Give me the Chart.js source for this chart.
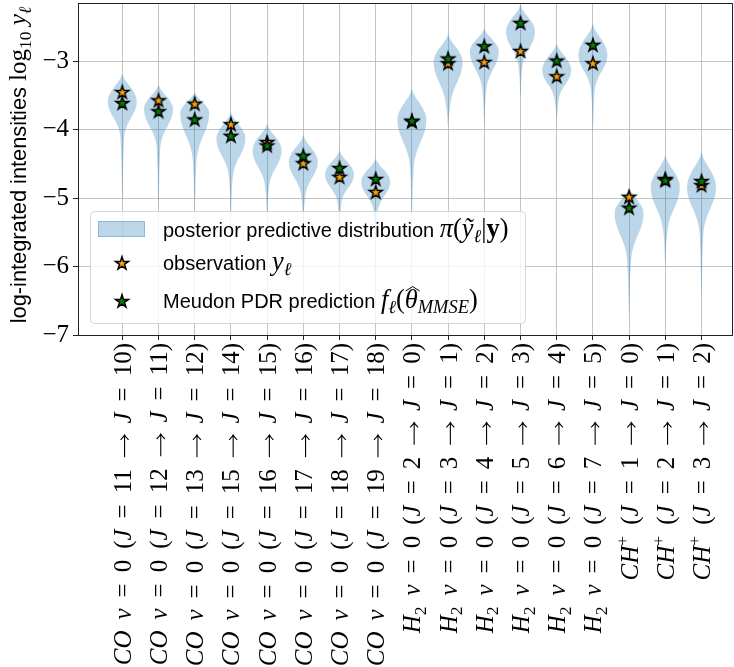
<!DOCTYPE html>
<html>
<head>
<meta charset="utf-8">
<script src="https://cdn.jsdelivr.net/npm/chart.js@4/dist/chart.umd.min.js"></script>
<style>
  html, body { margin: 0; padding: 0; background: #fff; }
  #wrap { width: 734px; height: 667px; }
</style>
</head>
<body>
<div id="wrap"><canvas id="chart" width="734" height="667"></canvas></div>
<script>
// Line labels (_x = subscript, ^x = superscript)
const categories = [
    'CO ν = 0 (J = 11 → J = 10)',
    'CO ν = 0 (J = 12 → J = 11)',
    'CO ν = 0 (J = 13 → J = 12)',
    'CO ν = 0 (J = 15 → J = 14)',
    'CO ν = 0 (J = 16 → J = 15)',
    'CO ν = 0 (J = 17 → J = 16)',
    'CO ν = 0 (J = 18 → J = 17)',
    'CO ν = 0 (J = 19 → J = 18)',
    'H_2 ν = 0 (J = 2 → J = 0)',
    'H_2 ν = 0 (J = 3 → J = 1)',
    'H_2 ν = 0 (J = 4 → J = 2)',
    'H_2 ν = 0 (J = 5 → J = 3)',
    'H_2 ν = 0 (J = 6 → J = 4)',
    'H_2 ν = 0 (J = 7 → J = 5)',
    'CH^+ (J = 1 → J = 0)',
    'CH^+ (J = 2 → J = 1)',
    'CH^+ (J = 3 → J = 2)'
];

const observation = [-3.45, -3.57, -3.62, -3.92, -4.18, -4.49, -4.69, -4.91, -3.88,
                     -3.03, -3.01, -2.85, -3.22, -3.03, -4.98, -4.72, -4.81];
const prediction  = [-3.61, -3.73, -3.85, -4.09, -4.23, -4.38, -4.56, -4.72, -3.87,
                     -2.96, -2.78, -2.44, -2.99, -2.76, -5.14, -4.74, -4.75];

// violin outline: tip, widest point, end of body, end of tail
const violinTop  = [-3.18, -3.34, -3.45, -3.74, -3.91, -4.08, -4.30, -4.42, -3.40,
                    -2.60, -2.52, -2.17, -2.74, -2.45, -4.84, -4.37, -4.32];
const violinPeak = [-3.59, -3.70, -3.76, -4.13, -4.30, -4.47, -4.66, -4.76, -3.86,
                    -3.01, -2.86, -2.57, -3.13, -2.91, -5.22, -4.84, -4.84];
const violinNeck = [-4.10, -4.25, -4.45, -4.69, -4.84, -4.98, -5.07, -5.20, -4.54,
                    -3.67, -3.42, -3.08, -3.57, -3.42, -5.91, -5.51, -5.51];
const violinTail = [-5.10, -5.20, -5.20, -5.30, -5.30, -5.40, -5.50, -5.60, -5.30,
                    -3.98, -3.95, -3.55, -3.90, -4.05, -6.78, -6.00, -6.50];
// relative half-widths along each part of a violin
const profileUpper = [0, 0.12, 0.33, 0.58, 0.80, 0.95, 1];
const profileLower = [1, 0.96, 0.84, 0.66, 0.46, 0.30, 0.19, 0.13];
const profileTail  = [0.13, 0.08, 0.05, 0.03, 0];
const violinWidth = 0.8;

const yTicks = [-7, -6, -5, -4, -3];

const violinColor = 'rgba(31,119,180,0.3)';
const gridColor = 'rgba(176,176,176,0.75)';
const SANS = '"Liberation Sans"';
const SERIF = '"Liberation Serif"';

function makeStar(fill) {
    const c = document.createElement('canvas');
    c.width = 20; c.height = 20;
    const g = c.getContext('2d');
    g.beginPath();
    for (let k = 0; k < 10; k++) {
        const r = k % 2 ? 6.8 * 0.382 : 6.8;
        const ang = -Math.PI / 2 + k * Math.PI / 5;
        const px = 10 + r * Math.cos(ang), py = 10.6 + r * Math.sin(ang);
        if (k) g.lineTo(px, py); else g.moveTo(px, py);
    }
    g.closePath();
    g.fillStyle = fill;
    g.fill();
    g.lineWidth = 1.5;
    g.strokeStyle = '#000';
    g.stroke();
    return c;
}
const starOrange = makeStar('#ffa500');
const starGreen = makeStar('#008000');

function violinOutline(i) {
    const left = [];
    const addPart = (from, to, prof, skipFirst) => {
        prof.forEach((w, k) => {
            if (skipFirst && k === 0) return;
            left.push({ y: from + (to - from) * k / (prof.length - 1), w: w * violinWidth / 2 });
        });
    };
    addPart(violinTop[i], violinPeak[i], profileUpper, false);
    addPart(violinPeak[i], violinNeck[i], profileLower, true);
    addPart(violinNeck[i], violinTail[i], profileTail, true);
    const pts = left.map(p => ({ x: i - p.w, y: p.y }));
    for (let k = left.length - 1; k >= 0; k--) pts.push({ x: i + left[k].w, y: left[k].y });
    return pts;
}

const datasets = [];
datasets.push({
    label: 'Meudon PDR prediction',
    data: prediction.map((v, i) => ({ x: i, y: v })),
    pointStyle: starGreen,
    order: 0
});
datasets.push({
    label: 'observation',
    data: observation.map((v, i) => ({ x: i, y: v })),
    pointStyle: starOrange,
    order: 1
});
categories.forEach((c, i) => {
    datasets.push({
        label: 'violin ' + i,
        data: violinOutline(i),
        showLine: true,
        fill: 'shape',
        backgroundColor: violinColor,
        borderColor: 'transparent',
        borderWidth: 0,
        pointRadius: 0,
        tension: 0.2,
        order: 2
    });
});

// --- small rich-text helper for the math labels
function fontFor(seg, size, mathScale) {
    const sz = seg.s ? size * 0.7 : size;
    if (seg.f === 'sans') return sz + 'px ' + SANS;
    const st = seg.f === 'it' ? 'italic ' : '';
    const wt = seg.f === 'bf' ? 'bold ' : '';
    return st + wt + (sz * mathScale) + 'px ' + SERIF;
}
function drawRich(ctx, segs, x, y, size, align, mathScale) {
    ctx.save();
    ctx.textAlign = 'left';
    ctx.textBaseline = 'alphabetic';
    ctx.fillStyle = '#000';
    ctx.strokeStyle = '#000';
    const widths = segs.map(s => {
        if (s.f === 'sp') return size * 0.44;
        if (s.f === 'arrow') return size * 0.95;
        ctx.font = fontFor(s, size, mathScale);
        return ctx.measureText(s.t).width;
    });
    const total = widths.reduce((a, b) => a + b, 0);
    let cx = align === 'right' ? x - total : align === 'center' ? x - total / 2 : x;
    segs.forEach((s, k) => {
        if (s.f === 'arrow') {
            // long thin TeX-like right arrow
            const ay = y - size * 0.25, w = widths[k], h = size * 0.16;
            ctx.beginPath();
            ctx.lineWidth = 1.1;
            ctx.moveTo(cx + 1, ay);
            ctx.lineTo(cx + w - 1, ay);
            ctx.moveTo(cx + w - 1 - h * 1.1, ay - h);
            ctx.quadraticCurveTo(cx + w - 1 - h * 0.3, ay - h * 0.2, cx + w - 0.5, ay);
            ctx.quadraticCurveTo(cx + w - 1 - h * 0.3, ay + h * 0.2, cx + w - 1 - h * 1.1, ay + h);
            ctx.stroke();
        } else if (s.f !== 'sp') {
            ctx.font = fontFor(s, size, mathScale);
            const dy = s.s === 'sub' ? size * 0.22 : s.s === 'sup' ? -size * 0.4 : 0;
            ctx.fillText(s.t, cx, y + dy);
            if (s.hat) {
                ctx.beginPath();
                ctx.lineWidth = 1;
                ctx.moveTo(cx + 1, y - size * 0.86);
                ctx.lineTo(cx + widths[k] / 2 + 1.5, y - size * 1.08);
                ctx.lineTo(cx + widths[k] + 2, y - size * 0.86);
                ctx.stroke();
            }
        }
        cx += widths[k];
    });
    ctx.restore();
}
function parseMath(str) {
    const segs = [];
    for (let i = 0; i < str.length; i++) {
        let ch = str[i], s;
        if (ch === ' ') { segs.push({ t: ' ', f: 'sp' }); continue; }
        if (ch === '→') { segs.push({ t: ch, f: 'arrow' }); continue; }
        if (ch === '_' || ch === '^') { s = ch === '_' ? 'sub' : 'sup'; ch = str[++i]; }
        const f = /[A-Za-z\u03b1-\u03c9]/.test(ch) ? 'it' : 'rm';
        const last = segs[segs.length - 1];
        if (last && last.f === f && last.s === s) last.t += ch;
        else segs.push({ t: ch, f: f, s: s });
    }
    return segs;
}

const yTitle = [
    { t: 'log-integrated intensities ', f: 'sans' },
    { t: 'log', f: 'rm' }, { t: '10', f: 'rm', s: 'sub' },
    { t: ' y', f: 'it' }, { t: 'ℓ', f: 'it', s: 'sub' }
];
const legendRows = [
    [{ t: 'posterior predictive distribution ', f: 'sans' }, { t: 'π', f: 'it' }, { t: '(', f: 'rm' },
     { t: 'ỹ', f: 'it' }, { t: 'ℓ', f: 'it', s: 'sub' }, { t: '|', f: 'rm' }, { t: 'y', f: 'bf' }, { t: ')', f: 'rm' }],
    [{ t: 'observation ', f: 'sans' }, { t: 'y', f: 'it' }, { t: 'ℓ', f: 'it', s: 'sub' }],
    [{ t: 'Meudon PDR prediction ', f: 'sans' }, { t: 'f', f: 'it' }, { t: 'ℓ', f: 'it', s: 'sub' }, { t: '(', f: 'rm' },
     { t: 'θ', f: 'it', hat: true }, { t: 'MMSE', f: 'it', s: 'sub' }, { t: ')', f: 'rm' }]
];

const decorations = {
    id: 'decorations',
    afterDraw(chart) {
        const ctx = chart.ctx;
        const a = chart.chartArea;
        // frame
        ctx.save();
        ctx.strokeStyle = '#222';
        ctx.lineWidth = 1;
        ctx.strokeRect(Math.round(a.left) + 0.5, Math.round(a.top) + 0.5,
            Math.round(a.right) - Math.round(a.left) - 1, Math.round(a.bottom - a.top));
        ctx.restore();

        // x tick labels, rotated
        const xs = chart.scales.x;
        const labelSize = 25;
        xs.ticks.forEach(tk => {
            const px = xs.getPixelForValue(tk.value);
            ctx.save();
            ctx.translate(px, a.bottom + 8);
            ctx.rotate(-Math.PI / 2);
            drawRich(ctx, parseMath(categories[tk.value]), 0, labelSize * 0.34, labelSize, 'right', 1);
            ctx.restore();
        });

        // y title
        ctx.save();
        ctx.translate(18, (a.top + a.bottom) / 2 - 4);
        ctx.rotate(-Math.PI / 2);
        drawRich(ctx, yTitle, 0, 21.8 * 0.36, 21.8, 'center', 1.15);
        ctx.restore();

        // legend
        const bx = a.left + 12, by = a.bottom - 124, bw = 435, bh = 112;
        ctx.save();
        ctx.beginPath();
        ctx.roundRect(bx + 0.5, by + 0.5, bw, bh, 4);
        ctx.fillStyle = 'rgba(255,255,255,0.8)';
        ctx.fill();
        ctx.strokeStyle = 'rgba(204,204,204,0.8)';
        ctx.lineWidth = 1;
        ctx.stroke();
        ctx.fillStyle = violinColor;
        ctx.fillRect(bx + 8, by + 10, 47, 16);
        ctx.strokeStyle = violinColor;
        ctx.strokeRect(bx + 8.5, by + 10.5, 46, 15);
        ctx.drawImage(starOrange, bx + 32 - 10, by + 52 - 10);
        ctx.drawImage(starGreen, bx + 32 - 10, by + 90 - 10);
        ctx.restore();
        const rowY = [19, 52, 90];
        const legSize = 20;
        legendRows.forEach((row, k) => {
            drawRich(ctx, row, bx + 73, by + rowY[k] + legSize * 0.36, legSize, 'left', 1.32);
        });
    }
};

new Chart(document.getElementById('chart'), {
    type: 'scatter',
    data: { datasets: datasets },
    options: {
        responsive: false,
        animation: false,
        devicePixelRatio: 1,
        layout: { autoPadding: false, padding: { top: 3, right: 1, left: 0, bottom: 0 } },
        plugins: { legend: { display: false }, tooltip: { enabled: false } },
        scales: {
            x: {
                type: 'linear',
                min: -1.224,
                max: 16.87,
                afterBuildTicks: s => { s.ticks = categories.map((c, i) => ({ value: i })); },
                afterFit: s => { s.height = 332; s.paddingLeft = 0; s.paddingRight = 0; },
                ticks: { display: false },
                grid: { color: gridColor, lineWidth: 1, drawTicks: true, tickLength: 5, tickColor: '#222' },
                border: { display: false }
            },
            y: {
                min: -7,
                max: -2.15,
                afterBuildTicks: s => { s.ticks = yTicks.map(v => ({ value: v })); },
                afterFit: s => { s.width = 78; s.paddingTop = 0; s.paddingBottom = 0; },
                ticks: {
                    color: '#000',
                    padding: 4,
                    font: { family: 'Liberation Serif', size: 25 },
                    callback: v => '\u2212' + Math.abs(v)
                },
                grid: { color: gridColor, lineWidth: 1, drawTicks: true, tickLength: 5, tickColor: '#222' },
                border: { display: false }
            }
        }
    },
    plugins: [decorations]
});
</script>
</body>
</html>
